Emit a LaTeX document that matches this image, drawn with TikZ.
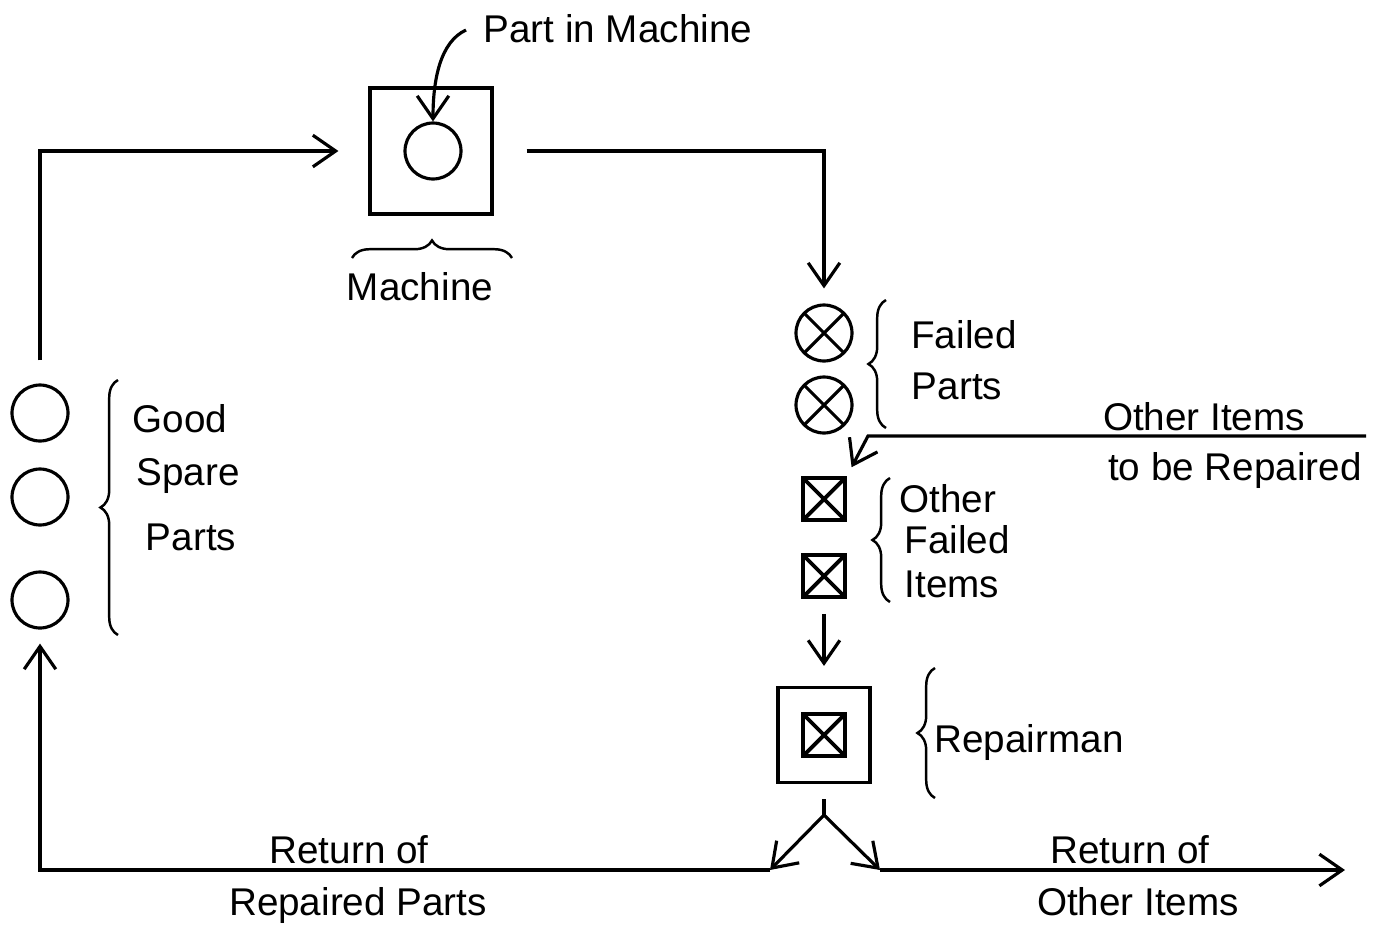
\documentclass[tikz,border=0pt]{standalone}
\usepackage{fontspec}
\setmainfont{Liberation Sans}
\usetikzlibrary{arrows.meta,decorations.pathreplacing,positioning}

\begin{document}
\begin{tikzpicture}[x=0.02cm,y=-0.02cm, >={Straight Barb[length=13pt,width=18pt]}, line width=1.8pt,
    part/.style={circle,draw,minimum size=1.12cm,inner sep=0pt},
    xlines/.style={path picture={
        \draw (path picture bounding box.north west)--(path picture bounding box.south east)
              (path picture bounding box.north east)--(path picture bounding box.south west);}},
    failed/.style={part,xlines},
    item/.style={draw,minimum size=0.84cm,inner sep=0pt,line width=2.2pt,xlines},
    lbl/.style={font=\fontsize{22}{26}\selectfont,inner sep=0pt,anchor=base},
    curly/.style={decorate,decoration={brace,amplitude=10pt},line width=1.4pt}]
    \useasboundingbox (0,0) rectangle (1380,924);

    % machine with its part
    \node[draw,minimum width=2.44cm,minimum height=2.52cm] (machine) at (431,151) {};
    \node[part] (inside) at (433,151) {};
    \coordinate (pointer) at (466,30);
    \draw[->] (pointer) .. controls (440,42) and (433,80) .. (inside.north);
    \node[lbl,anchor=base west] (partlbl) at (482,42) {Part in Machine};
    \draw[curly] (352,258) -- (512,258);
    \node[lbl] (machinelbl) at (420,300) {Machine};

    % spares
    \foreach \y [count=\i] in {413,497,600}
        \node[part] (spare\i) at (40,\y) {};
    \draw[curly] (118,635) -- (118,380);
    \node[lbl] at (180,432) {Good};
    \node[lbl] at (188,485) {Spare};
    \node[lbl] at (191,550) {Parts};

    % failed parts
    \node[failed] (fail1) at (824,333) {};
    \node[failed] (fail2) at (824,405) {};
    \draw[curly] (886,428) -- (886,300);
    \node[lbl] at (964,348) {Failed};
    \node[lbl] at (957,399) {Parts};

    % other failed items
    \node[item] (other1) at (824,499) {};
    \node[item] (other2) at (824,576) {};
    \draw[curly] (890,602) -- (890,478);
    \node[lbl,anchor=base west] at (898,512) {Other};
    \node[lbl,anchor=base west] at (903,553) {Failed};
    \node[lbl,anchor=base west] at (903,597) {Items};

    \coordinate (feed) at (1366,436);
    \coordinate (bend) at (868,436);
    \draw[->,shorten >=0.2cm] (feed) -- (bend) -- (other1.north east);
    \node[lbl] at (1204,430) {Other Items};
    \node[lbl] at (1235,480) {to be Repaired};

    % repairman
    \node[draw,minimum width=1.84cm,minimum height=1.9cm] (repair) at (824,735) {};
    \node[item] (job) at (repair.center) {};
    \draw[curly] (935,798) -- (935,668);
    \node[lbl,anchor=base west] at (933,752) {Repairman};
    \draw[->,shorten <=0.3cm,shorten >=0.4cm] (other2.south) -- (repair.north);

    % flow along the top
    \draw[->,shorten <=0.46cm,shorten >=0.6cm] (spare1.north) |- (machine.west);
    \draw[->,shorten <=0.66cm,shorten >=0.3cm] (machine.east) -| (fail1.north);

    % returns
    \coordinate (fork) at (824,815);
    \coordinate (backL) at (770,870);
    \coordinate (outR) at (880,870);
    \coordinate (exit) at (1345,870);
    \draw[shorten <=0.3cm] (repair.south) -- (fork);
    \draw[->] (fork) -- (backL);
    \draw[->] (fork) -- (outR);
    \draw[->,shorten >=0.28cm] (backL) -| (spare3.south);
    \draw[->] (outR) -- (exit);
    \node[lbl] at (349,863) {Return of};
    \node[lbl] at (358,915) {Repaired Parts};
    \node[lbl] at (1130,863) {Return of};
    \node[lbl] at (1138,915) {Other Items};
\end{tikzpicture}
\end{document}
